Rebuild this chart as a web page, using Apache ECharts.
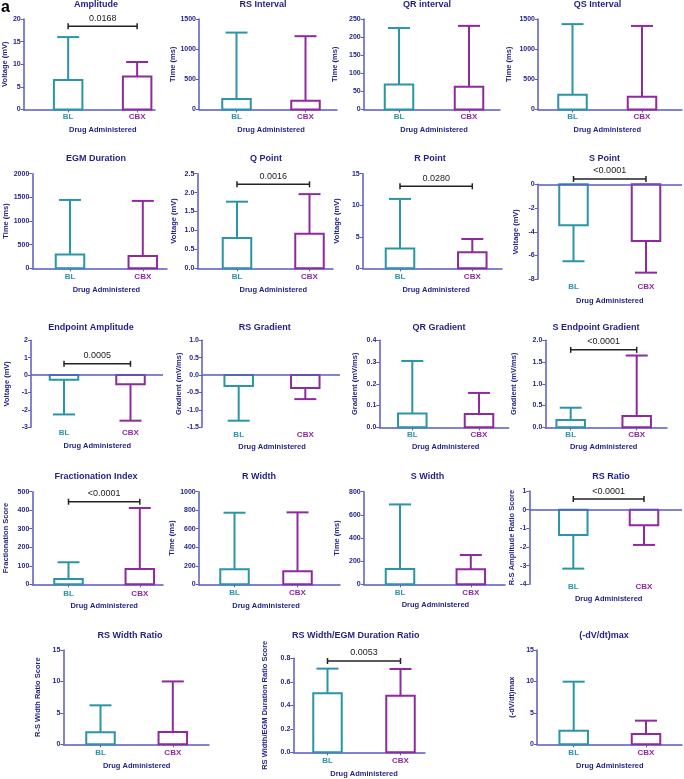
<!DOCTYPE html>
<html><head><meta charset="utf-8">
<script src="https://cdn.jsdelivr.net/npm/echarts@6/dist/echarts.min.js"></script>
<style>html,body{margin:0;padding:0;background:#fff}#c{width:684px;height:779px}</style>
</head><body><div id="c"></div>
<script>
const titles = ['Amplitude','RS Interval','QR interval','QS Interval','EGM Duration','Q Point','R Point','S Point','Endpoint Amplitude','RS Gradient','QR Gradient','S Endpoint Gradient','Fractionation Index','R Width','S Width','RS Ratio','RS Width Ratio','RS Width/EGM Duration Ratio','(-dV/dt)max'];
const yNames = ['Voltage (mV)','Time (ms)','Time (ms)','Time (ms)','Time (ms)','Voltage (mV)','Voltage (mV)','Voltage (mV)','Voltage (mV)','Gradient (mV/ms)','Gradient (mV/ms)','Gradient (mV/ms)','Fractionation Score','Time (ms)','Time (ms)','R-S Amplitude Ratio Score','R-S Width Ratio Score','RS Width/EGM Duration Ratio Score','(-dV/dt)max'];
const xName = 'Drug Administered';
const categories = ['BL','CBX'];
const blMean  = [6.5,175,69,245,290,0.80,3.12,-3.45,-0.27,-0.31,0.064,0.17,29,162,132,-1.36,1.91,0.502,2.17];
const blErr   = [16.0,1275,225,1415,1445,1.76,11.0,-6.48,-2.26,-1.31,0.305,0.45,119,773,690,-3.16,6.2,0.712,9.96];
const cbxMean = [7.3,145,63,210,262,0.91,2.55,-4.77,-0.52,-0.37,0.061,0.26,83,140,129,-0.84,1.96,0.482,1.64];
const cbxErr  = [10.5,1215,231,1385,1425,1.96,4.65,-7.44,-2.62,-0.69,0.158,1.65,412,777,253,-1.89,10.0,0.709,3.76];
const yMin = [0,0,0,0,0,0,0,-8,-3,-1.5,0,0,0,0,0,-4,0,0,0];
const yMax = [20,1500,250,1500,2000,2.5,15,0,2,1,0.4,2,500,1000,800,1,15,0.8,15];
const yStep = [5,500,50,500,500,0.5,5,2,1,0.5,0.1,0.5,100,200,200,1,5,0.2,5];
const yDecimals = [0,0,0,0,0,1,0,0,0,1,1,1,0,0,0,0,0,1,0];
const pValues = ['0.0168',null,null,null,null,'0.0016','0.0280','<0.0001','0.0005',null,null,'<0.0001','<0.0001',null,null,'<0.0001',null,'0.0053',null];
const bracketY = [18.4,null,null,null,null,2.22,13.0,0.45,0.65,null,null,1.78,446,null,null,0.57,null,0.777,null];

// layout: [axisX, c1, c2, xEnd, yTop, yBot, titleX, titleY, yNameGap, labelMargin, xNameGap]
const layout = [
 [22.7,67.5,137,155,19,109.5,96,5,12,3,16.75],
 [199,236.5,305.5,337,19,109.5,263,5,22,3,16.75],
 [363.7,399,469,500,19,109.5,427,5,25,3,16.75],
 [538,572.5,642,682,19,109.5,597.5,5,25.5,3,16.75],
 [32.3,70,142.8,167,173.7,268.3,96,159,22.85,4.4,17.65],
 [197.3,237,309.5,333,173.7,268.3,266,159,19.55,4.4,17.65],
 [362.7,400,472.3,502,173.7,268.3,430,159,22.25,4.4,17.65],
 [537.7,573.5,646,682,184.3,279.3,604.5,158.3,17.95,3.4,17.25],
 [31,64,130.5,163,340.3,427.3,91,327.3,20.55,1.7,14.65],
 [202,238.7,305.3,340,340.3,427.3,264.7,327.3,18.25,3.7,15.5],
 [379.3,412.3,479,508.7,340.3,427.3,439,327.3,20.25,3.7,15.5],
 [545.3,570.7,636.7,667,340.3,427.3,596,327.3,27.85,3.7,15.5],
 [32.3,68.5,139.8,163,491.7,584.3,96,476.7,22.85,5,17.65],
 [198.7,234.5,297.5,340,491.7,584.3,259,476.7,22.25,4,17.65],
 [363.7,400,470.8,505,491.7,584.3,427.5,476.7,23.25,4,17],
 [529.3,573.3,644,682,491,584.3,611,476.7,10.25,-1.6,10.25],
 [63.3,100.5,172.8,209,650,744.3,130,635.7,21.25,4,17.65],
 [293.3,327.5,400.5,425,658.3,752.3,355.7,635.7,24.55,4.4,17.25],
 [537,573.7,646,682,650,744.3,604,635.7,21.25,4,17.65]
];

const TEAL = '#2a95a7', PURPLE = '#8e2a9e', AXIS = '#5a5ac6', NAVY = '#1f1f86', FONT = '"Liberation Sans", Arial, sans-serif';
const colors = [TEAL, PURPLE];

const grid = [], xAxis = [], yAxis = [], series = [], graphic = [];
graphic.push({type:'text', x:1, y:0, style:{text:'a', font:'bold 16px ' + FONT, fill:'#000'}});

titles.forEach((t, i) => {
  const [ax, c1, c2, xe, yt, yb, tx, ty, yng, lm, xng] = layout[i];
  const u = c2 - c1;
  const neg = yMin[i] < 0;
  grid.push({left: ax, top: yt, width: xe - ax, height: yb - yt});
  const dx = (c1 + c2) / 2 - (ax + xe) / 2;
  xAxis.push({
    type:'value', gridIndex:i,
    min: 1 - (c1 - ax) / u, max: 2 + (xe - c2) / u,
    splitLine:{show:false},
    axisLine:{show: !neg, onZero:false, lineStyle:{color:AXIS, width:1.5}},
    axisTick:{show: !neg, customValues:[1,2], length:3, lineStyle:{color:AXIS, width:1}},
    axisLabel:{customValues:[1,2], margin: lm, formatter: v => v === 1 ? '{a|' + categories[0] + '}' : '{b|' + categories[1] + '}',
      rich:{a:{color:TEAL, fontSize:8, fontWeight:'bold', fontFamily:FONT}, b:{color:PURPLE, fontSize:8, fontWeight:'bold', fontFamily:FONT}}},
    name: xName, nameLocation:'middle', nameGap: xng,
    nameTextStyle:{color:NAVY, fontSize:7.5, fontWeight:'bold', fontFamily:FONT,
      padding: dx >= 0 ? [0,0,0,2*dx] : [0,-2*dx,0,0]}
  });
  const d = yDecimals[i];
  yAxis.push({
    type:'value', gridIndex:i, min:yMin[i], max:yMax[i], interval:yStep[i],
    splitLine:{show:false},
    axisLine:{show:true, onZero:false, lineStyle:{color:AXIS, width:1.5}},
    axisTick:{show:true, length:3, lineStyle:{color:AXIS, width:1}},
    axisLabel:{color:NAVY, fontSize:7, fontWeight:'bold', fontFamily:FONT, margin:3, formatter: v => Number(v).toFixed(d)},
    name: yNames[i], nameLocation:'middle', nameGap: yng,
    nameTextStyle:{color:NAVY, fontSize:7.5, fontWeight:'bold', fontFamily:FONT}
  });
  graphic.push({type:'text', x: tx, y: ty, style:{text: t, font:'bold 9px ' + FONT, fill: NAVY, align:'center', verticalAlign:'middle'}});

  const s = {
    type:'custom', xAxisIndex:i, yAxisIndex:i, clip:false,
    data: [[1, blMean[i], blErr[i]], [2, cbxMean[i], cbxErr[i]]],
    renderItem: (params, api) => {
      const x = api.value(0), m = api.value(1), e = api.value(2);
      const p0 = api.coord([x, 0]), pm = api.coord([x, m]), pe = api.coord([x, e]);
      const col = colors[x - 1];
      const w = 28.5, cap = 11;
      return {type:'group', children:[
        {type:'line', shape:{x1:pm[0], y1:pm[1], x2:pe[0], y2:pe[1]}, style:{stroke:col, lineWidth:2}},
        {type:'line', shape:{x1:pe[0]-cap, y1:pe[1], x2:pe[0]+cap, y2:pe[1]}, style:{stroke:col, lineWidth:2}},
        {type:'rect', shape:{x:p0[0]-w/2, y:Math.min(p0[1], pm[1]), width:w, height:Math.abs(pm[1]-p0[1])}, style:{fill:'none', stroke:col, lineWidth:2}}
      ]};
    }
  };
  if (neg) {
    s.markLine = {silent:true, symbol:['none','none'], label:{show:false}, lineStyle:{color:AXIS, width:1.5, type:'solid'},
      emphasis:{disabled:true}, animation:false, data:[{yAxis:0}]};
  }
  series.push(s);
  if (pValues[i]) {
    series.push({
      type:'custom', xAxisIndex:i, yAxisIndex:i, clip:false,
      data: [[1, 2, bracketY[i], i]],
      renderItem: (params, api) => {
        const a = api.coord([api.value(0), api.value(2)]), b = api.coord([api.value(1), api.value(2)]);
        const st = {stroke:'#222', lineWidth:1.5};
        return {type:'group', children:[
          {type:'line', shape:{x1:a[0], y1:a[1], x2:b[0], y2:b[1]}, style:st},
          {type:'line', shape:{x1:a[0], y1:a[1]-3, x2:a[0], y2:a[1]+3}, style:st},
          {type:'line', shape:{x1:b[0], y1:b[1]-3, x2:b[0], y2:b[1]+3}, style:st},
          {type:'text', x:(a[0]+b[0])/2, y:a[1]-8, style:{text: pValues[api.value(3)], font:'9px ' + FONT, fill:'#222', align:'center', verticalAlign:'middle'}}
        ]};
      }
    });
  }
});

const chart = echarts.init(document.getElementById('c'), null, {renderer:'canvas'});
chart.setOption({animation:false, textStyle:{fontFamily:FONT}, grid, xAxis, yAxis, series, graphic});
</script></body></html>
